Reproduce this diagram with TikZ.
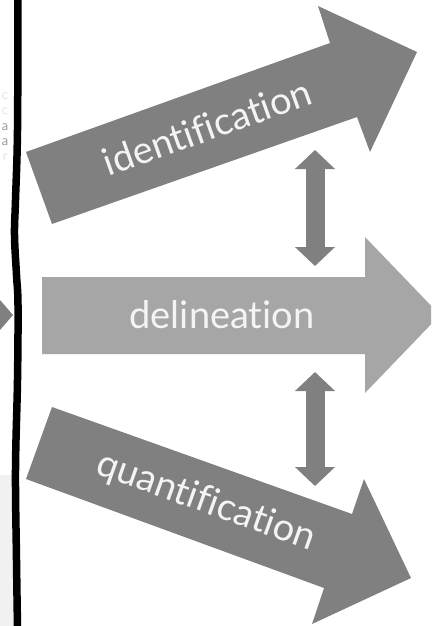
\documentclass[tikz,border=0pt]{standalone}
\usepackage{fontspec}
\setmainfont{Lato}[Ligatures={NoCommon}]
\usetikzlibrary{arrows.meta}
\definecolor{darkfill}{HTML}{808080}
\definecolor{lightfill}{HTML}{A6A6A6}
\definecolor{labeltext}{HTML}{F4F4F4}
\definecolor{panelbg}{HTML}{F1F1F1}
\tikzset{
  bigarrow/.style={fill=#1, draw=none},
  steplabel/.style={text=labeltext, inner sep=0pt, font=\fontsize{38}{38}\selectfont},
  linkarrow/.style={draw=darkfill, line width=19pt,
    {Triangle[width=39pt,length=19pt]}-{Triangle[width=39pt,length=19pt]}},
  edgeglyph/.style={text=#1, inner sep=0pt, font=\sffamily\fontsize{15}{15}\selectfont}
}
\begin{document}
\begin{tikzpicture}[x=1pt, y=-1pt]
\useasboundingbox (0,0) rectangle (431,626);
\clip (0,0) rectangle (431,626);
\fill[white] (0,0) rectangle (431,626);

% strip of the neighbouring panel on the left
\fill[panelbg] (0,475) rectangle (16,626);
\fill[darkfill] (0,300) -- (13,315) -- (0,330) -- cycle;
\node[edgeglyph=gray!20] (g1) at (5,96) {c};
\node[edgeglyph=gray!20] (g2) at (5,111) {c};
\node[edgeglyph=gray!75] (g3) at (5,127) {a};
\node[edgeglyph=gray!75] (g4) at (5,142) {a};
\node[edgeglyph=gray!20] (g5) at (5,157) {r};

% wavy separator
\draw[line width=7.5pt, line cap=butt] plot[smooth, tension=0.6] coordinates
  {(18,-2) (17.5,130) (15.5,200) (14.5,235) (16.5,275) (18,305) (17.5,380) (15.5,470) (16.5,560) (17.5,628)};

% identification arrow
\fill[bigarrow=darkfill] (26,152) -- (330,43) -- (318,6) -- (417,52) -- (370,152) -- (357,117) -- (52,224) -- cycle;
\node[steplabel, rotate=19.7] (ident) at (207,127) {identification};

% delineation arrow
\fill[bigarrow=lightfill] (42,277) -- (365,277) -- (365,237) -- (440,315) -- (365,393) -- (365,354) -- (42,354) -- cycle;
\node[steplabel] (delin) at (222,315) {delineation};

% quantification arrow
\fill[bigarrow=darkfill] (52,407) -- (352,514) -- (364,479) -- (411,578) -- (312,624) -- (324,588) -- (26,479) -- cycle;
\node[steplabel, rotate=-19.6] (quant) at (206,502) {quantification};

% links between the stages
\coordinate (linkAtop) at (315,150);
\coordinate (linkAbot) at (315,266);
\coordinate (linkBtop) at (315,372);
\coordinate (linkBbot) at (315,486);
\draw[linkarrow] (linkAtop) -- (linkAbot);
\draw[linkarrow] (linkBtop) -- (linkBbot);
\end{tikzpicture}
\end{document}
